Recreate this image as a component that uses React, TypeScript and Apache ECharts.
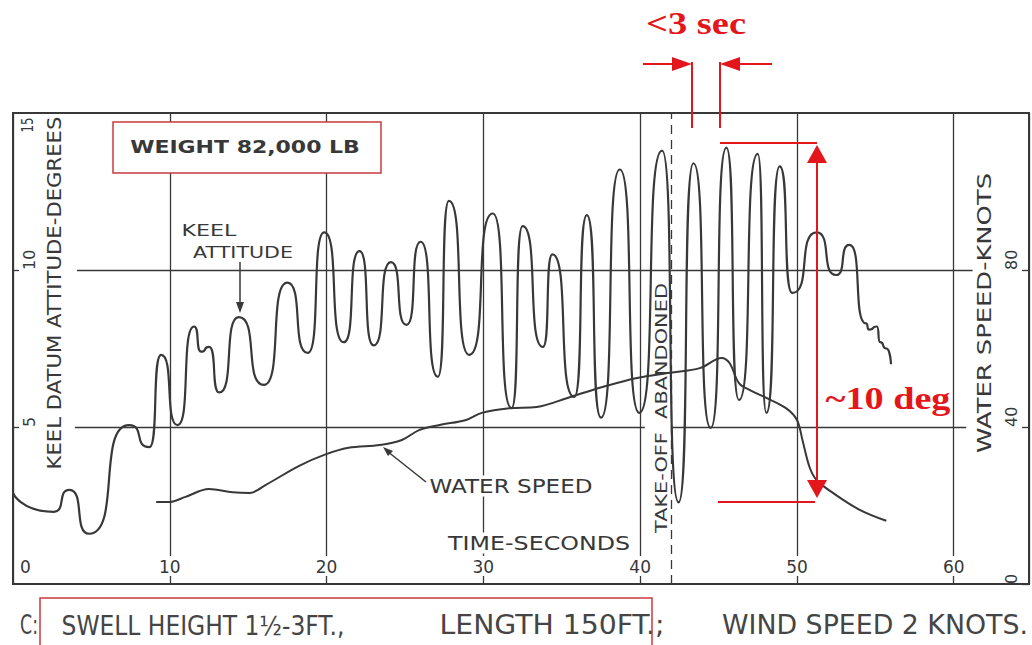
import React, { useEffect, useRef } from 'react';
import * as echarts from 'echarts';

// ---------- data ----------
// Keel datum attitude (degrees) vs time (seconds): turning points of the trace
const keelTime = [0.0, 2.6, 3.6, 4.85, 7.4, 8.7, 9.45, 10.5, 11.55, 12.0, 12.5, 13.15, 14.4, 16.0, 17.5, 18.8, 19.85, 21.1, 22.1, 23.0, 24.1, 25.1, 26.0, 27.1, 27.8, 29.1, 30.6, 31.8, 32.5, 33.8, 34.4, 35.8, 36.6, 37.5, 38.7, 39.95, 41.4, 42.45, 43.4, 44.5, 45.5, 46.3, 47.5, 48.05, 48.9, 49.7, 51.25, 52.5, 53.35, 54.4, 54.6, 55.1, 55.3, 55.7, 56.0];
const keelDeg = [2.9, 2.3, 3.0, 1.6, 5.06, 4.36, 7.3, 5.06, 8.2, 7.4, 7.55, 6.1, 8.5, 6.34, 9.6, 7.36, 11.2, 7.7, 10.6, 7.6, 10.25, 8.25, 10.9, 6.6, 12.2, 7.3, 11.8, 5.6, 11.4, 7.55, 10.5, 5.96, 11.75, 5.3, 13.2, 5.45, 13.8, 2.6, 13.4, 4.97, 13.9, 5.86, 13.7, 5.45, 13.3, 9.27, 11.2, 9.84, 10.8, 8.3, 8.1, 8.2, 7.7, 7.5, 7.0];

// Water speed (knots) vs time (seconds)
const speedTime = [9.13, 9.96, 11.0, 12.5, 14.0, 15.1, 16.1, 18.25, 19.85, 21.4, 23.4, 24.8, 25.9, 27.2, 28.9, 29.9, 31.65, 33.4, 35.5, 37.6, 39.8, 41.9, 43.8, 45.2, 45.7, 46.3, 47.0, 48.05, 49.3, 50.0, 50.35, 50.8, 51.25, 52.3, 54.0, 55.7];
const speedKnots = [20.9, 20.9, 22.2, 24.2, 23.4, 23.2, 25.2, 30.1, 32.9, 34.7, 35.4, 36.7, 39.2, 40.5, 41.8, 43.6, 44.8, 45.1, 47.6, 50.2, 52.5, 53.8, 55.0, 57.6, 56.3, 51.2, 49.4, 47.4, 44.8, 41.8, 36.7, 29.8, 26.5, 23.2, 18.9, 16.1];

const timeTickLabels = ['0', '10', '20', '30', '40', '50', '60'];
const degTickLabels = ['0', '5', '10', '15'];
const knotTickLabels = ['0', '40', '80', '120'];
const takeOffAbandonedTime = 42.0;

// ---------- styling ----------
const INK = '#383838';
const RED = '#e3161b';
const BOX = '#c93a3e';
const LETTER = "'DejaVu Sans', sans-serif";
const NARROW = "'Liberation Sans Narrow', 'DejaVu Sans Condensed', sans-serif";
const SERIF = "'Liberation Serif', 'DejaVu Serif', serif";

let measureCtx: CanvasRenderingContext2D | null = null;
function textWidth(text: string, size: number, family: string, weight: string) {
  if (!measureCtx) measureCtx = document.createElement('canvas').getContext('2d');
  if (!measureCtx) return 0;
  measureCtx.font = `${weight} ${size}px ${family}`;
  return measureCtx.measureText(text).width;
}

function fitText(
  text: string, cx: number, cy: number, width: number, size: number,
  opts: { family?: string; weight?: string; fill?: string; rotation?: number; bg?: string } = {}
) {
  const family = opts.family || LETTER;
  const weight = opts.weight || 'normal';
  const w = textWidth(text, size, family, weight) || width;
  const style: any = {
    text, fontSize: size, fontFamily: family, fontWeight: weight,
    fill: opts.fill || INK, align: 'center', verticalAlign: 'middle',
  };
  if (opts.bg) { style.backgroundColor = opts.bg; style.padding = [1, 2]; }
  return {
    type: 'text', x: cx, y: cy, rotation: opts.rotation || 0,
    scaleX: width / w, z: 100, style,
  };
}

function redLine(x1: number, y1: number, x2: number, y2: number) {
  return { type: 'line', z: 110, shape: { x1, y1, x2, y2 }, style: { stroke: RED, lineWidth: 2 } };
}
function tri(points: number[][], fill: string) {
  return { type: 'polygon', z: 110, shape: { points }, style: { fill } };
}

export default function App() {
  const ref = useRef<HTMLDivElement>(null);

  useEffect(() => {
    if (!ref.current) return;
    const chart = echarts.init(ref.current, null, { renderer: 'svg' });

    const keelData = keelTime.map((t, i) => [t, keelDeg[i]]);
    const speedData = speedTime.map((t, i) => [t, speedKnots[i]]);

    const graphic: any[] = [
      // weight box
      { type: 'rect', z: 90, shape: { x: 113, y: 122, width: 268, height: 51 }, style: { fill: '#fff', stroke: BOX, lineWidth: 1.5 } },
      fitText('WEIGHT 82,000 LB', 245, 147, 230, 18, { weight: 'bold' }),
      // keel attitude label + arrow
      fitText('KEEL', 209, 231, 55, 16),
      fitText('ATTITUDE', 243, 252, 100, 16),
      { type: 'line', z: 100, shape: { x1: 240, y1: 262, x2: 240, y2: 306 }, style: { stroke: INK, lineWidth: 1.5 } },
      tri([[236, 302], [240, 313], [244, 302]], INK),
      // water speed label + leader
      fitText('WATER SPEED', 511, 486, 163, 19, { bg: '#fff' }),
      { type: 'line', z: 100, shape: { x1: 387, y1: 451, x2: 426, y2: 482 }, style: { stroke: INK, lineWidth: 1.5 } },
      tri([[383, 447], [393, 451], [388, 456]], INK),
      fitText('TIME-SECONDS', 539, 543, 182, 19, { bg: '#fff' }),
      fitText('TAKE-OFF  ABANDONED', 661, 408, 250, 16, { rotation: Math.PI / 2 }),
      // axis titles
      fitText('KEEL DATUM ATTITUDE-DEGREES', 54, 293, 353, 20, { rotation: Math.PI / 2 }),
      fitText('WATER SPEED-KNOTS', 984, 313, 280, 20, { rotation: Math.PI / 2 }),
      fitText(degTickLabels[3], 27, 125, 15, 16, { rotation: Math.PI / 2 }),
      // caption
      fitText('C:', 29, 625, 18, 27, { family: NARROW, fill: '#454545' }),
      fitText('SWELL HEIGHT 1½-3FT.,', 203, 625, 283, 27, { family: NARROW, fill: '#454545' }),
      fitText('LENGTH 150FT.;', 552, 625, 225, 27, { family: NARROW, fill: '#454545' }),
      fitText('WIND SPEED 2 KNOTS.', 875, 625, 306, 27, { family: NARROW, fill: '#454545' }),
      { type: 'rect', z: 110, shape: { x: 40, y: 598, width: 612, height: 60 }, style: { fill: 'none', stroke: BOX, lineWidth: 1.5 } },
      // red annotations
      fitText('<3 sec', 696, 24, 100, 31, { family: SERIF, weight: 'bold', fill: RED }),
      redLine(643, 64, 682, 64),
      tri([[672, 57], [692, 64], [672, 71]], RED),
      redLine(692, 62, 692, 128),
      redLine(720, 62, 720, 128),
      tri([[740, 57], [720, 64], [740, 71]], RED),
      redLine(730, 64, 772, 64),
      redLine(720, 143, 817, 143),
      redLine(817, 150, 817, 492),
      tri([[807, 163], [817, 145], [827, 163]], RED),
      tri([[807, 480], [817, 498], [827, 480]], RED),
      redLine(718, 502, 815, 502),
      fitText('~10 deg', 888, 399, 125, 31, { family: SERIF, weight: 'bold', fill: RED }),
    ];

    const xLabel = (v: number) => {
      const s = timeTickLabels[Math.round(v / 10)] ?? '';
      return v === 0 ? `{z|${s}}` : `{b|${s}}`;
    };

    const option: any = {
      animation: false,
      backgroundColor: '#fff',
      grid: { left: 13, top: 113, width: 1016, height: 471, show: true, borderColor: INK, borderWidth: 2, backgroundColor: 'transparent' },
      xAxis: {
        type: 'value', min: 0, max: 64.8, interval: 10,
        axisLine: { show: false }, axisTick: { show: false },
        splitLine: { show: true, lineStyle: { color: INK, width: 1.3 } },
        axisLabel: {
          inside: true, margin: 8, showMaxLabel: false, alignMinLabel: 'left',
          formatter: xLabel, fontFamily: LETTER, fontSize: 17, color: INK,
          rich: {
            b: { fontFamily: LETTER, fontSize: 17, color: INK, backgroundColor: '#fff', padding: [2, 3, 1, 3] },
            z: { fontFamily: LETTER, fontSize: 17, color: INK, padding: [2, 0, 1, 7] },
          },
        },
      },
      yAxis: [
        {
          type: 'value', min: 0, max: 15, interval: 5,
          axisLine: { show: false },
          axisTick: { show: true, inside: true, length: 6, lineStyle: { color: INK, width: 1.3 } },
          splitLine: { show: false },
          axisLabel: {
            inside: true, rotate: 90, margin: 8, align: 'left', verticalAlign: 'top',
            showMinLabel: false, showMaxLabel: false,
            formatter: (v: number) => degTickLabels[Math.round(v / 5)] ?? '',
            fontFamily: LETTER, fontSize: 16, color: INK,
          },
        },
        {
          type: 'value', position: 'right', min: 0, max: 120, interval: 40,
          axisLine: { show: false },
          axisTick: { show: true, inside: true, length: 7, lineStyle: { color: INK, width: 1.3 } },
          splitLine: { show: false },
          axisLabel: {
            inside: true, rotate: 90, margin: 10, align: 'left', verticalAlign: 'bottom',
            showMaxLabel: false,
            formatter: (v: number) => knotTickLabels[Math.round(v / 40)] ?? '',
            fontFamily: LETTER, fontSize: 16, color: INK,
          },
        },
      ],
      series: [
        {
          name: 'KEEL ATTITUDE', type: 'line', data: keelData, yAxisIndex: 0,
          showSymbol: false, smooth: 0.8, smoothMonotone: 'x', z: 3,
          lineStyle: { color: INK, width: 2.2 },
          markLine: {
            silent: true, symbol: ['none', 'none'], label: { show: false },
            lineStyle: { color: INK, width: 1.3, type: 'solid' },
            data: [
              [{ coord: [3.95, 5] }, { coord: [40.3, 5] }],
              [{ coord: [42.0, 5] }, { coord: [60.8, 5] }],
              [{ coord: [4.08, 10] }, { coord: [61.2, 10] }],
              { xAxis: takeOffAbandonedTime, lineStyle: { type: [9, 6], width: 1.3, color: INK } },
            ],
          },
        },
        {
          name: 'WATER SPEED', type: 'line', data: speedData, yAxisIndex: 1,
          showSymbol: false, smooth: 0.35, z: 3,
          lineStyle: { color: INK, width: 2 },
        },
      ],
      graphic,
    };

    chart.setOption(option);
    return () => chart.dispose();
  }, []);

  return (
    <div
      ref={ref}
      style={{ position: 'fixed', left: 0, top: 0, width: 1032, height: 645, background: '#fff' }}
    />
  );
}
